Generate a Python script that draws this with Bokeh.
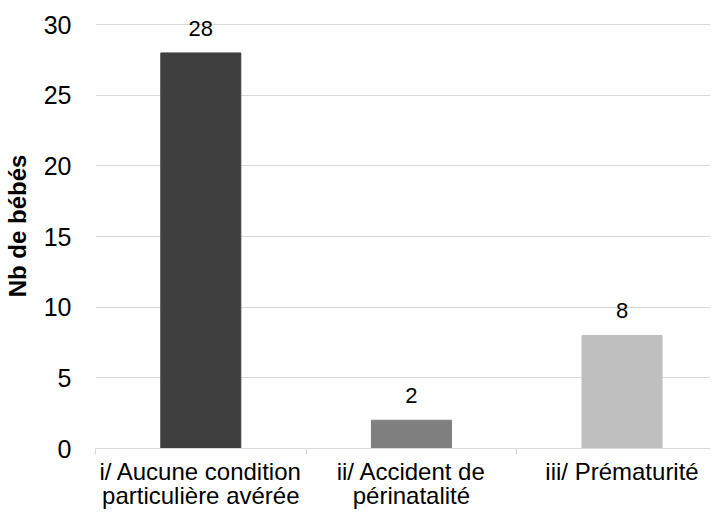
from bokeh.plotting import figure
from bokeh.models import Range1d, FixedTicker, ColumnDataSource, LabelSet
from bokeh.core.properties import value
from bokeh.embed import file_html
from bokeh.resources import INLINE

categories = ["i/ Aucune condition\nparticulière avérée",
              "ii/ Accident de\npérinatalité",
              "iii/ Prématurité"]
values = [28, 2, 8]
colors = ["#404040", "#7f7f7f", "#bfbfbf"]
y_ticks = [0, 5, 10, 15, 20, 25, 30]
y_title = "Nb de bébés"

xs = [i + 0.5 for i in range(len(categories))]
bounds = [float(i) for i in range(len(categories) + 1)]

src = ColumnDataSource(dict(x=xs, top=values, color=colors,
                            label=[str(v) for v in values]))

p = figure(width=710, height=514, output_backend="svg", toolbar_location=None,
           x_range=Range1d(0, 2.92), y_range=Range1d(0, 31.5),
           min_border_left=86, min_border_right=0, min_border_top=3,
           min_border_bottom=66)
p.outline_line_color = None
p.background_fill_color = "white"
p.border_fill_color = "white"

p.vbar(x="x", top="top", width=0.38, color="color", source=src)

labels = LabelSet(x="x", y="top", text="label", source=src, y_offset=17,
                  text_align="center", text_baseline="alphabetic",
                  text_font=value("Liberation Sans"), text_font_size="22px",
                  text_color="#000000")
p.add_layout(labels)

# grid
p.xgrid.visible = False
p.ygrid.grid_line_color = "#d9d9d9"
p.ygrid.grid_line_width = 1

# x axis
xa = p.xaxis[0]
xa.ticker = FixedTicker(ticks=xs, minor_ticks=bounds)
xa.major_label_overrides = {x: c for x, c in zip(xs, categories)}
xa.axis_line_color = "#d9d9d9"
xa.major_tick_line_color = None
xa.major_tick_out = 0
xa.major_tick_in = 0
xa.minor_tick_line_color = "#d9d9d9"
xa.minor_tick_out = 6
xa.minor_tick_in = 0
xa.major_label_standoff = 3
xa.major_label_text_font = "Liberation Sans"
xa.major_label_text_font_size = "24px"
xa.major_label_text_line_height = 0.92
xa.major_label_text_color = "#000000"

# y axis
ya = p.yaxis[0]
ya.ticker = FixedTicker(ticks=y_ticks)
ya.axis_line_color = None
ya.major_tick_line_color = None
ya.minor_tick_line_color = None
ya.major_tick_out = 0
ya.major_tick_in = 0
ya.major_label_standoff = 24
ya.major_label_text_font = "Liberation Sans"
ya.major_label_text_font_size = "25px"
ya.major_label_text_color = "#000000"
ya.axis_label = y_title
ya.axis_label_text_font = "Liberation Sans"
ya.axis_label_text_font_style = "bold"
ya.axis_label_text_font_size = "24px"
ya.axis_label_text_color = "#000000"
ya.axis_label_standoff = 10

open("out.html", "w").write(file_html(p, INLINE))
